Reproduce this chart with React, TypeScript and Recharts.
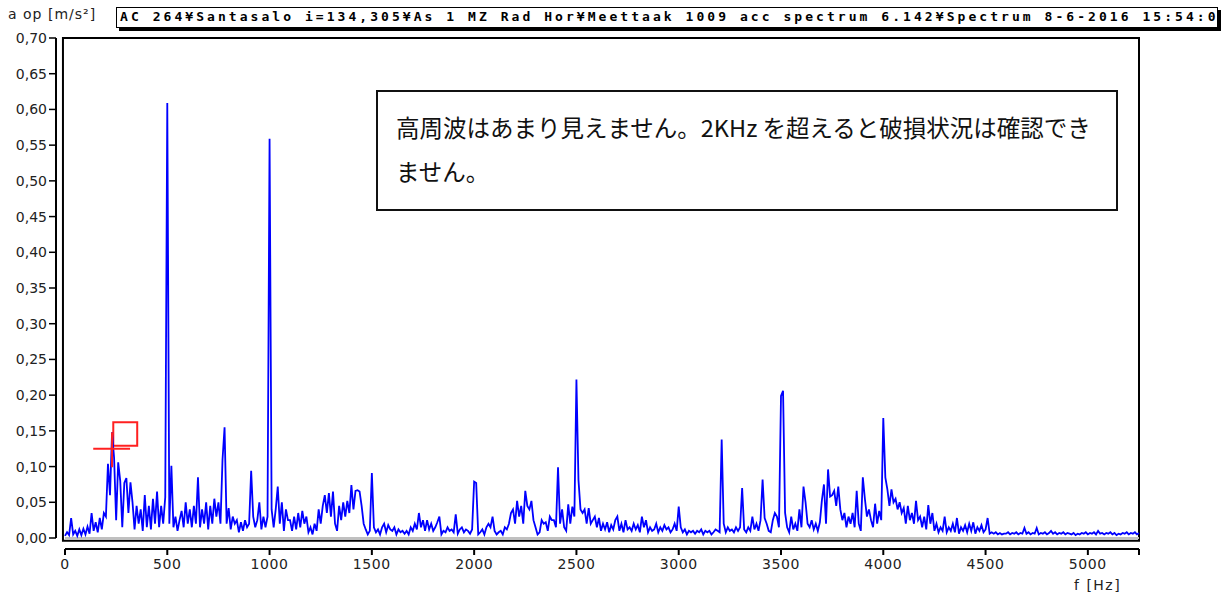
import React from 'react';
import { LineChart, Line, XAxis, YAxis, ReferenceLine, ReferenceArea } from 'recharts';

const FREQ_STEP_HZ = 10;

// acceleration amplitude [m/s²] per 10 Hz bin, 0–990 Hz
const band0k = [
  0.003, 0.008, 0.004, 0.028, 0.005, 0.010, 0.003, 0.012, 0.004, 0.013,
  0.005, 0.016, 0.006, 0.035, 0.010, 0.022, 0.008, 0.028, 0.012, 0.035,
  0.030, 0.104, 0.060, 0.148, 0.112, 0.025, 0.106, 0.080, 0.015, 0.077,
  0.084, 0.035, 0.078, 0.050, 0.012, 0.045, 0.020, 0.040, 0.010, 0.060,
  0.015, 0.045, 0.012, 0.055, 0.020, 0.065, 0.015, 0.045, 0.020, 0.057,
  0.609, 0.020, 0.101, 0.015, 0.030, 0.010, 0.025, 0.038, 0.015, 0.050,
  0.020, 0.040, 0.015, 0.045, 0.020, 0.085, 0.015, 0.040, 0.020, 0.050,
  0.012, 0.045, 0.020, 0.055, 0.030, 0.050, 0.020, 0.110, 0.155, 0.020,
  0.042, 0.012, 0.030, 0.020, 0.025, 0.008, 0.022, 0.010, 0.025, 0.015,
  0.020, 0.094, 0.030, 0.015, 0.025, 0.050, 0.012, 0.030, 0.015, 0.030,
];
// 1000–1990 Hz
const band1k = [
  0.559, 0.040, 0.015, 0.040, 0.072, 0.020, 0.050, 0.010, 0.040, 0.025,
  0.025, 0.010, 0.030, 0.012, 0.035, 0.015, 0.038, 0.020, 0.030, 0.008,
  0.015, 0.005, 0.020, 0.010, 0.040, 0.020, 0.045, 0.060, 0.035, 0.063,
  0.030, 0.065, 0.020, 0.010, 0.045, 0.025, 0.050, 0.030, 0.052, 0.035,
  0.074, 0.040, 0.066, 0.067, 0.065, 0.045, 0.020, 0.012, 0.005, 0.010,
  0.091, 0.015, 0.008, 0.012, 0.005, 0.015, 0.020, 0.008, 0.018, 0.012,
  0.010, 0.015, 0.005, 0.012, 0.008, 0.010, 0.006, 0.010, 0.005, 0.015,
  0.010, 0.020, 0.012, 0.035, 0.015, 0.025, 0.010, 0.025, 0.012, 0.020,
  0.010, 0.015, 0.022, 0.030, 0.005, 0.010, 0.008, 0.015, 0.010, 0.012,
  0.008, 0.033, 0.006, 0.012, 0.015, 0.008, 0.012, 0.010, 0.006, 0.012,
];
// 2000–2990 Hz
const band2k = [
  0.079, 0.077, 0.005, 0.008, 0.012, 0.005, 0.015, 0.020, 0.015, 0.030,
  0.010, 0.005, 0.008, 0.010, 0.005, 0.015, 0.012, 0.020, 0.035, 0.040,
  0.020, 0.052, 0.030, 0.045, 0.020, 0.066, 0.045, 0.040, 0.052, 0.025,
  0.015, 0.005, 0.008, 0.025, 0.020, 0.022, 0.010, 0.030, 0.025, 0.025,
  0.015, 0.099, 0.020, 0.040, 0.015, 0.010, 0.047, 0.020, 0.044, 0.030,
  0.222, 0.081, 0.040, 0.035, 0.040, 0.020, 0.042, 0.020, 0.025, 0.030,
  0.015, 0.028, 0.010, 0.020, 0.012, 0.022, 0.008, 0.018, 0.012, 0.025,
  0.030, 0.010, 0.020, 0.008, 0.025, 0.012, 0.015, 0.010, 0.020, 0.012,
  0.018, 0.008, 0.030, 0.015, 0.025, 0.008, 0.015, 0.010, 0.012, 0.020,
  0.008, 0.015, 0.010, 0.018, 0.012, 0.015, 0.008, 0.012, 0.020, 0.010,
];
// 3000–3990 Hz
const band3k = [
  0.044, 0.015, 0.008, 0.012, 0.005, 0.010, 0.008, 0.010, 0.006, 0.010,
  0.008, 0.012, 0.005, 0.010, 0.008, 0.010, 0.005, 0.008, 0.012, 0.010,
  0.008, 0.138, 0.020, 0.008, 0.015, 0.010, 0.012, 0.008, 0.015, 0.010,
  0.015, 0.070, 0.012, 0.008, 0.015, 0.010, 0.030, 0.012, 0.020, 0.010,
  0.025, 0.082, 0.028, 0.020, 0.010, 0.008, 0.025, 0.035, 0.030, 0.015,
  0.199, 0.206, 0.035, 0.015, 0.008, 0.030, 0.012, 0.020, 0.010, 0.040,
  0.015, 0.072, 0.050, 0.020, 0.015, 0.025, 0.012, 0.020, 0.010, 0.022,
  0.053, 0.075, 0.020, 0.096, 0.058, 0.060, 0.066, 0.045, 0.072, 0.040,
  0.025, 0.035, 0.015, 0.030, 0.020, 0.035, 0.015, 0.066, 0.020, 0.010,
  0.085, 0.055, 0.030, 0.040, 0.025, 0.015, 0.048, 0.020, 0.038, 0.025,
];
// 4000–4990 Hz
const band4k = [
  0.168, 0.085, 0.068, 0.045, 0.068, 0.050, 0.055, 0.040, 0.050, 0.035,
  0.042, 0.020, 0.045, 0.025, 0.035, 0.020, 0.052, 0.025, 0.030, 0.015,
  0.030, 0.012, 0.046, 0.020, 0.035, 0.010, 0.020, 0.008, 0.015, 0.010,
  0.030, 0.008, 0.015, 0.010, 0.020, 0.008, 0.028, 0.006, 0.015, 0.010,
  0.018, 0.008, 0.020, 0.010, 0.022, 0.006, 0.015, 0.010, 0.018, 0.008,
  0.012, 0.028, 0.006, 0.008, 0.006, 0.008, 0.005, 0.007, 0.005, 0.006,
  0.006, 0.008, 0.005, 0.007, 0.006, 0.008, 0.005, 0.007, 0.006, 0.014,
  0.006, 0.008, 0.005, 0.007, 0.006, 0.014, 0.005, 0.007, 0.006, 0.008,
  0.005, 0.007, 0.010, 0.006, 0.008, 0.005, 0.007, 0.006, 0.008, 0.005,
  0.007, 0.006, 0.005, 0.007, 0.004, 0.006, 0.005, 0.007, 0.006, 0.008,
];
// 5000–5250 Hz
const band5k = [
  0.005, 0.007, 0.006, 0.008, 0.005, 0.010, 0.006, 0.007, 0.005, 0.007,
  0.006, 0.008, 0.005, 0.007, 0.004, 0.006, 0.005, 0.007, 0.006, 0.008,
  0.005, 0.007, 0.006, 0.008, 0.005, 0.007,
];

const amplitudes = [...band0k, ...band1k, ...band2k, ...band3k, ...band4k, ...band5k];
const data = amplitudes.map((a, i) => ({ f: i * FREQ_STEP_HZ, a }));

const X_MAX = 5250;
const xTicks = [0, 500, 1000, 1500, 2000, 2500, 3000, 3500, 4000, 4500, 5000, 5250];
const yTicks = [0, 0.05, 0.1, 0.15, 0.2, 0.25, 0.3, 0.35, 0.4, 0.45, 0.5, 0.55, 0.6, 0.65, 0.7];

const titleText = 'AC 264¥Santasalo i=134,305¥As 1 MZ Rad Hor¥Meettaak 1009 acc spectrum 6.142¥Spectrum 8-6-2016 15:54:0';
const yUnitText = 'a op [m/s²]';
const xUnitText = 'f [Hz]';
const noteLine1 = '高周波はあまり見えません。2KHz を超えると破損状況は確認でき';
const noteLine2 = 'ません。';

// cursor marker (data coordinates)
const cursorF = 230;
const cursorA = 0.125;
const cursorHFrom = 138;
const cursorHTo = 318;
const cursorVFrom = 0.099;
const cursorVTo = 0.148;
const cursorBox = { f1: 236, f2: 353, a1: 0.129, a2: 0.162 };

const axisFont = { fill: '#222', fontSize: 14, fontFamily: 'DejaVu Sans', letterSpacing: 0.6 };
const yAxisFont = { fill: '#222', fontSize: 14, fontFamily: 'DejaVu Sans' };

export default function App() {
  return (
    <div style={{ position: 'absolute', left: 0, top: 0, width: 1225, height: 597, background: '#fff', overflow: 'hidden' }}>
      <div style={{ position: 'absolute', left: 8, top: 6, fontFamily: 'DejaVu Sans', fontSize: 14, color: '#222', whiteSpace: 'nowrap', letterSpacing: 1 }}>
        {yUnitText}
      </div>
      <div style={{ position: 'absolute', left: 116, top: 7, width: 1100, height: 19, border: '1.5px solid #000', boxShadow: '3px 3px 0 #000', background: '#fff', overflow: 'hidden', whiteSpace: 'nowrap' }}>
        <span style={{ position: 'absolute', left: 3, top: 1, fontFamily: 'DejaVu Sans Mono', fontWeight: 'bold', fontSize: 13, letterSpacing: 3.05, color: '#000' }}>
          {titleText}
        </span>
      </div>
      <LineChart width={1225} height={597} data={data} margin={{ top: 38, right: 86, bottom: 18, left: 2 }}>
        <XAxis xAxisId="gap" type="number" dataKey="f" domain={[0, X_MAX]} height={11} axisLine={false} tickLine={false} tick={false} />
        <XAxis
          xAxisId="main"
          type="number"
          dataKey="f"
          domain={[0, X_MAX]}
          ticks={xTicks}
          interval={0}
          height={30}
          axisLine={{ stroke: '#000', strokeWidth: 2 }}
          tickLine={{ stroke: '#000', strokeWidth: 2 }}
          tickSize={6}
          tickMargin={4}
          tick={axisFont}
          tickFormatter={(v: number) => (v === X_MAX ? '' : String(v))}
        />
        <YAxis yAxisId="gap" type="number" domain={[0, 0.7]} width={9} axisLine={false} tickLine={false} tick={false} />
        <YAxis
          yAxisId="main"
          type="number"
          domain={[0, 0.7]}
          ticks={yTicks}
          interval={0}
          width={54}
          axisLine={{ stroke: '#000', strokeWidth: 2 }}
          tickLine={{ stroke: '#000', strokeWidth: 1.5 }}
          tickSize={7}
          tickMargin={2}
          tick={yAxisFont}
          tickFormatter={(v: number) => v.toFixed(2).replace('.', ',')}
        />
        <ReferenceArea xAxisId="main" yAxisId="main" x1={-10} x2={X_MAX} y1={-0.004} y2={0.7} fill="none" stroke="#000" strokeWidth={2} ifOverflow="visible" />
        <ReferenceLine xAxisId="main" yAxisId="main" y={0} stroke="#c0c0c0" strokeWidth={2} />
        <Line xAxisId="main" yAxisId="main" type="linear" dataKey="a" stroke="#0000ff" strokeWidth={1.8} dot={false} isAnimationActive={false} />
        <ReferenceLine xAxisId="main" yAxisId="main" segment={[{ x: cursorHFrom, y: cursorA }, { x: cursorHTo, y: cursorA }]} stroke="#ff2020" strokeWidth={2} ifOverflow="visible" />
        <ReferenceLine xAxisId="main" yAxisId="main" segment={[{ x: cursorF, y: cursorVFrom }, { x: cursorF, y: cursorVTo }]} stroke="#ff2020" strokeWidth={2} ifOverflow="visible" />
        <ReferenceArea xAxisId="main" yAxisId="main" x1={cursorBox.f1} x2={cursorBox.f2} y1={cursorBox.a1} y2={cursorBox.a2} fill="none" stroke="#ff2020" strokeWidth={2} ifOverflow="visible" />
      </LineChart>
      <div style={{ position: 'absolute', left: 376, top: 90, width: 738, height: 117, border: '2px solid #111', background: '#fff' }}>
        <div style={{ position: 'absolute', left: 18, top: 13, fontFamily: '"Noto Sans CJK JP"', fontSize: 23.5, lineHeight: '44px', color: '#111', whiteSpace: 'nowrap' }}>
          {noteLine1}
          <br />
          {noteLine2}
        </div>
      </div>
      <div style={{ position: 'absolute', left: 1074, top: 577, fontFamily: 'DejaVu Sans', fontSize: 14, color: '#222', letterSpacing: 1.5, whiteSpace: 'nowrap' }}>
        {xUnitText}
      </div>
    </div>
  );
}
